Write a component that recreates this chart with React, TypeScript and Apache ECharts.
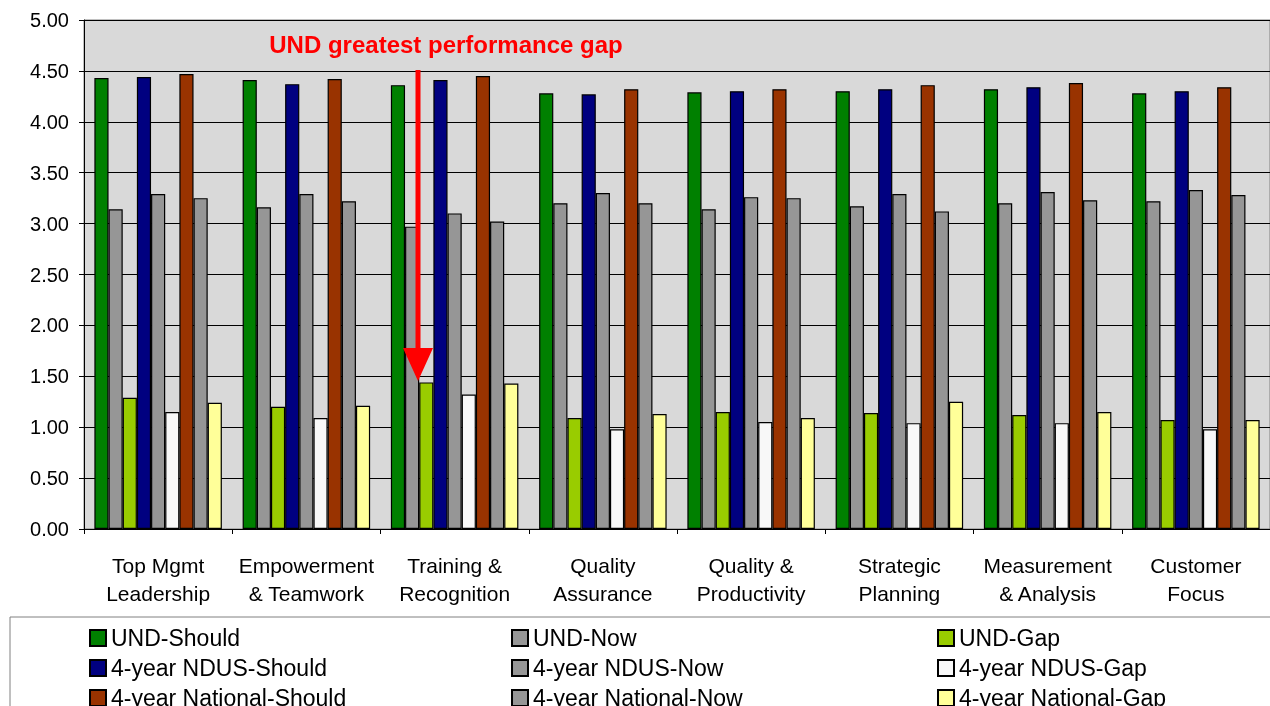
import React, { useEffect, useRef } from "react";
import * as echarts from "echarts";

const categories = [
  "Top Mgmt\nLeadership",
  "Empowerment\n& Teamwork",
  "Training &\nRecognition",
  "Quality\nAssurance",
  "Quality &\nProductivity",
  "Strategic\nPlanning",
  "Measurement\n& Analysis",
  "Customer\nFocus",
];

const undShould = [4.43, 4.41, 4.36, 4.28, 4.29, 4.3, 4.32, 4.28];
const undNow = [3.14, 3.16, 2.97, 3.2, 3.14, 3.17, 3.2, 3.22];
const undGap = [1.29, 1.2, 1.44, 1.09, 1.15, 1.14, 1.12, 1.07];
const ndusShould = [4.44, 4.37, 4.41, 4.27, 4.3, 4.32, 4.34, 4.3];
const ndusNow = [3.29, 3.29, 3.1, 3.3, 3.26, 3.29, 3.31, 3.33];
const ndusGap = [1.15, 1.09, 1.32, 0.98, 1.05, 1.04, 1.04, 0.98];
const natShould = [4.47, 4.42, 4.45, 4.32, 4.32, 4.36, 4.38, 4.34];
const natNow = [3.25, 3.22, 3.02, 3.2, 3.25, 3.12, 3.23, 3.28];
const natGap = [1.24, 1.21, 1.43, 1.13, 1.09, 1.25, 1.15, 1.07];

const seriesNames = [
  "UND-Should",
  "UND-Now",
  "UND-Gap",
  "4-year NDUS-Should",
  "4-year NDUS-Now",
  "4-year NDUS-Gap",
  "4-year National-Should",
  "4-year National-Now",
  "4-year National-Gap",
];
const seriesData = [undShould, undNow, undGap, ndusShould, ndusNow, ndusGap, natShould, natNow, natGap];
const seriesColors = ["#008000", "#969696", "#99CC00", "#000080", "#969696", "#F8F8F8", "#993300", "#969696", "#FFFF99"];

const annotationText = "UND greatest performance gap";
const FONT = "'Liberation Sans', Arial, sans-serif";

export default function App() {
  const ref = useRef<HTMLDivElement>(null);

  useEffect(() => {
    if (!ref.current) return;
    const chart = echarts.init(ref.current, undefined, { renderer: "svg" });

    const legendCol = (names: string[], left: number) => ({
      show: true,
      orient: "vertical",
      left,
      top: 626,
      height: 100,
      padding: 0,
      itemWidth: 16,
      itemHeight: 16,
      itemGap: 6,
      icon: "rect",
      data: names,
      selectedMode: false,
      itemStyle: { borderColor: "#000", borderWidth: 2 },
      textStyle: { fontFamily: FONT, fontSize: 23, lineHeight: 24, color: "#000" },
    });

    chart.setOption({
      animation: false,
      textStyle: { fontFamily: FONT },
      grid: {
        left: 84,
        top: 20,
        width: 1192,
        height: 509,
        show: true,
        backgroundColor: "#d9d9d9",
        borderColor: "#808080",
        borderWidth: 1,
      },
      legend: [
        legendCol([seriesNames[0], seriesNames[3], seriesNames[6]], 89),
        legendCol([seriesNames[1], seriesNames[4], seriesNames[7]], 511),
        legendCol([seriesNames[2], seriesNames[5], seriesNames[8]], 937),
      ],
      xAxis: {
        type: "category",
        data: categories,
        boundaryGap: true,
        axisLine: { show: true, lineStyle: { color: "#000", width: 1 } },
        axisTick: { show: true, length: 5, lineStyle: { color: "#000" } },
        axisLabel: {
          interval: 0,
          fontFamily: FONT,
          fontSize: 21,
          lineHeight: 28,
          color: "#000",
          margin: 22,
          align: "center",
        },
      },
      yAxis: {
        type: "value",
        min: 0,
        max: 5,
        interval: 0.5,
        axisLine: { show: true, lineStyle: { color: "#000", width: 1 } },
        axisTick: { show: true, length: 5, lineStyle: { color: "#000" } },
        axisLabel: {
          fontFamily: FONT,
          fontSize: 20,
          color: "#000",
          margin: 15,
          formatter: (v: number) => v.toFixed(2),
        },
        splitLine: { show: true, lineStyle: { color: "#000", width: 1 } },
      },
      series: seriesNames.map((name, i) => ({
        name,
        type: "bar",
        data: seriesData[i],
        barGap: "0%",
        barCategoryGap: "14%",
        itemStyle: { color: seriesColors[i], borderColor: "#000", borderWidth: 1.2 },
      })),
      graphic: [
        {
          type: "rect",
          z: 0,
          shape: { x: 10, y: 617, width: 1300, height: 120 },
          style: { fill: "#fff", stroke: "#808080", lineWidth: 1 },
        },
        {
          type: "text",
          z: 10,
          x: 446,
          y: 44,
          style: {
            text: annotationText,
            fill: "#ff0000",
            font: `bold 24px ${FONT}`,
            textAlign: "center",
            textVerticalAlign: "middle",
            verticalAlign: "middle",
          },
        },
        {
          type: "line",
          z: 10,
          shape: { x1: 418, y1: 70, x2: 418, y2: 352 },
          style: { stroke: "#ff0000", lineWidth: 5 },
        },
        {
          type: "polygon",
          z: 10,
          shape: { points: [[403, 348], [433, 348], [418, 381]] },
          style: { fill: "#ff0000" },
        },
      ],
    });

    return () => chart.dispose();
  }, []);

  return (
    <div
      ref={ref}
      style={{ position: "fixed", left: 0, top: 0, width: 1270, height: 706 }}
    />
  );
}
